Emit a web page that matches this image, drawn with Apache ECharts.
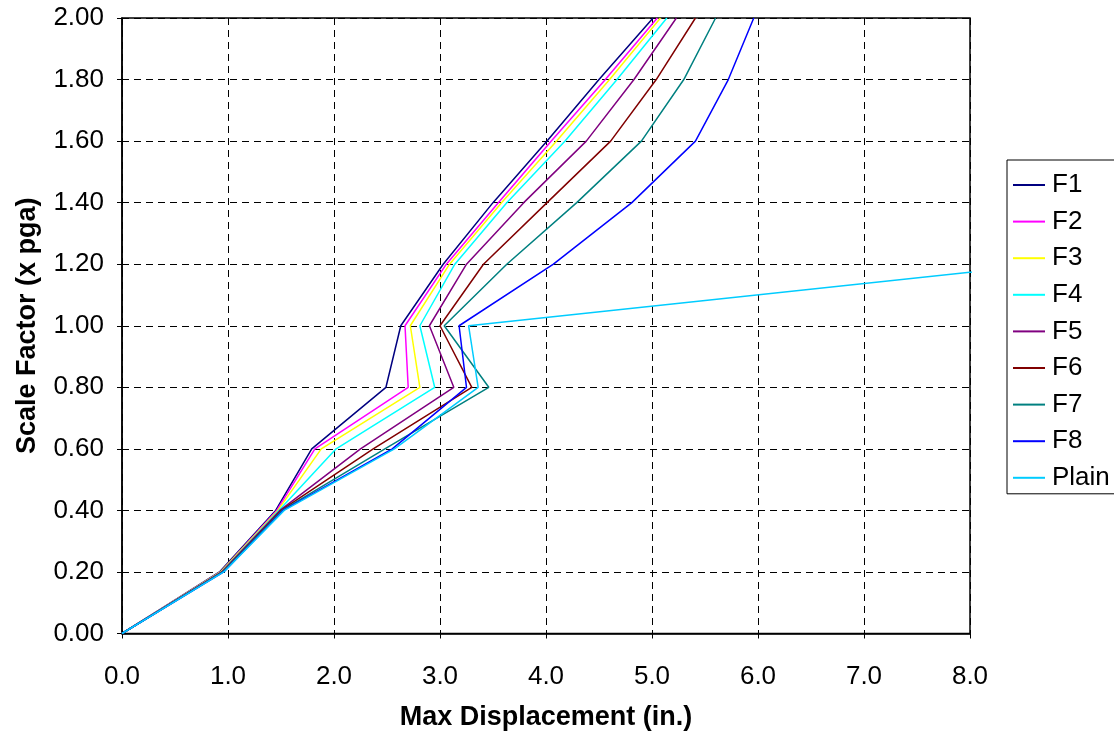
<!DOCTYPE html>
<html>
<head>
<meta charset="utf-8">
<script src="https://cdn.jsdelivr.net/npm/echarts@6/dist/echarts.min.js"></script>
<style>
html,body{margin:0;padding:0;background:#fff;}
#chart{width:1114px;height:736px;}
</style>
</head>
<body>
<div id="chart"></div>
<script>
// Scale factor levels (y values)
var scaleFactors = [0.0, 0.2, 0.4, 0.6, 0.8, 1.0, 1.2, 1.4, 1.6, 1.8, 2.0];
// Max displacement for each series (x values)
var seriesNames = ['F1','F2','F3','F4','F5','F6','F7','F8','Plain'];
var F1 = [0, 0.92, 1.45, 1.79, 2.49, 2.63, 3.03, 3.50, 4.01, 4.50, 5.01];
var F2 = [0, 0.93, 1.46, 1.82, 2.70, 2.67, 3.06, 3.55, 4.05, 4.56, 5.05];
var F3 = [0, 0.93, 1.47, 1.88, 2.81, 2.72, 3.09, 3.58, 4.10, 4.60, 5.08];
var F4 = [0, 0.94, 1.48, 2.02, 2.95, 2.81, 3.14, 3.63, 4.18, 4.67, 5.14];
var F5 = [0, 0.94, 1.49, 2.25, 3.13, 2.90, 3.25, 3.79, 4.38, 4.83, 5.23];
var F6 = [0, 0.95, 1.50, 2.37, 3.30, 3.00, 3.41, 4.01, 4.61, 5.04, 5.41];
var F7 = [0, 0.95, 1.51, 2.48, 3.46, 3.04, 3.63, 4.29, 4.90, 5.30, 5.60];
var F8 = [0, 0.96, 1.52, 2.55, 3.25, 3.18, 4.07, 4.81, 5.41, 5.72, 5.96];
var Plain = [0, 0.96, 1.53, 2.57, 3.36, 3.27, 8.70];
var xTicks = ['0.0','1.0','2.0','3.0','4.0','5.0','6.0','7.0','8.0'];
var yTicks = ['0.00','0.20','0.40','0.60','0.80','1.00','1.20','1.40','1.60','1.80','2.00'];

var colors = ['#000080','#FF00FF','#FFFF00','#00FFFF','#800080','#800000','#008080','#0000FF','#00CCFF'];
var allX = [F1,F2,F3,F4,F5,F6,F7,F8,Plain];

function pairs(xs){
  return xs.map(function(v,i){ return [v, scaleFactors[i]]; });
}

var series = seriesNames.map(function(n,i){
  return {
    name: n,
    type: 'line',
    data: pairs(allX[i]),
    symbol: 'none',
    clip: true,
    lineStyle: {color: colors[i], width: 1.5},
    itemStyle: {color: colors[i]},
    emphasis: {disabled: true},
    animation: false
  };
});

var chart = echarts.init(document.getElementById('chart'), null, {renderer: 'canvas'});
var font = 'Liberation Sans, Arial, sans-serif';
chart.setOption({
  animation: false,
  textStyle: {fontFamily: font},
  grid: {left: 122, right: 144, top: 18, bottom: 100, show: true, borderColor: '#000', borderWidth: 1.5, containLabel: false},
  xAxis: {
    type: 'value', min: 0, max: 8, interval: 1,
    name: 'Max Displacement (in.)', nameLocation: 'middle', nameGap: 70.5,
    nameTextStyle: {fontSize: 27, fontWeight: 'bold', color: '#000', fontFamily: font},
    axisLine: {show: true, onZero: false, lineStyle: {color: '#000', width: 1.5}},
    axisTick: {show: true, inside: false, length: 5, lineStyle: {color: '#000'}},
    axisLabel: {fontSize: 26, color: '#000', margin: 30, fontFamily: font,
      formatter: function(v){ return xTicks[Math.round(v)]; }},
    splitLine: {show: true, lineStyle: {color: '#000', type: [7,5], width: 1}}
  },
  yAxis: {
    type: 'value', min: 0, max: 2, interval: 0.2,
    name: 'Scale Factor (x pga)', nameLocation: 'middle', nameGap: 80.5, nameRotate: 90,
    nameTextStyle: {fontSize: 27, fontWeight: 'bold', color: '#000', fontFamily: font},
    axisLine: {show: true, onZero: false, lineStyle: {color: '#000', width: 1.5}},
    axisTick: {show: true, inside: false, length: 5, lineStyle: {color: '#000'}},
    axisLabel: {fontSize: 26, color: '#000', margin: 18, fontFamily: font,
      formatter: function(v){ return yTicks[Math.round(v*5)]; }},
    splitLine: {show: true, lineStyle: {color: '#000', type: [7,5], width: 1}}
  },
  legend: {
    orient: 'vertical', left: 1007, top: 160,
    padding: [12, 5, 3, 6],
    icon: 'rect',
    itemWidth: 32, itemHeight: 2, itemGap: 10.6,
    borderColor: '#000', borderWidth: 1, backgroundColor: '#fff',
    textStyle: {fontSize: 26, color: '#000', fontFamily: font, padding: [0,0,0,2]},
    data: seriesNames
  },
  series: series
});
</script>
</body>
</html>
